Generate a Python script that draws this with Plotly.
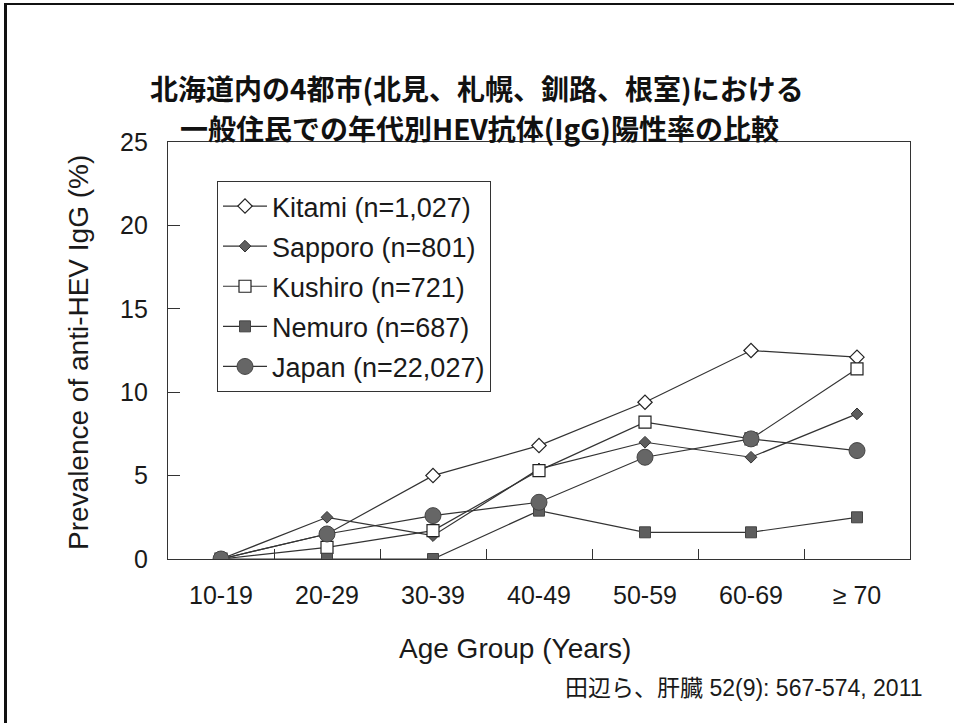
import plotly.graph_objects as go

age_groups = ["10-19", "20-29", "30-39", "40-49", "50-59", "60-69", "≥ 70"]
kitami = [0, 1.5, 5.0, 6.8, 9.4, 12.5, 12.1]
sapporo = [0, 2.5, 1.4, 5.4, 7.0, 6.1, 8.7]
kushiro = [0, 0.7, 1.7, 5.3, 8.2, 7.2, 11.4]
nemuro = [0, 0.0, 0.0, 2.9, 1.6, 1.6, 2.5]
japan = [0, 1.5, 2.6, 3.4, 6.1, 7.2, 6.5]

series_names = ["Kitami (n=1,027)", "Sapporo (n=801)", "Kushiro (n=721)",
                "Nemuro (n=687)", "Japan (n=22,027)"]
y_ticks = [0, 5, 10, 15, 20, 25]

W, H = 954, 723
L, R, T, B = 168, 910, 142, 559  # plot area pixels


def px(xp):
    return (xp - L) / (R - L)


def py(yp):
    return (B - yp) / (B - T)


FONT = "Liberation Sans, Arial, sans-serif"
CJK = "Noto Sans CJK JP, sans-serif"
LINE = "#333333"
FILL = "#5e5e5e"

styles = [
    dict(symbol="diamond", size=11, color="white", line=dict(color="#222", width=1.2)),
    dict(symbol="diamond", size=9, color=FILL, line=dict(color="#333", width=1)),
    dict(symbol="square", size=12, color="white", line=dict(color="#222", width=1.2)),
    dict(symbol="square", size=11, color=FILL, line=dict(color="#444", width=1)),
    dict(symbol="circle", size=16, color="#666666", line=dict(color="#444", width=1)),
]

fig = go.Figure()
for name, vals, st in zip(series_names, [kitami, sapporo, kushiro, nemuro, japan], styles):
    fig.add_trace(go.Scatter(
        x=age_groups, y=vals, name=name, mode="lines+markers",
        line=dict(color=LINE, width=1.2),
        marker=st, legendgroup=name,
    ))

fig.update_layout(
    width=W, height=H,
    margin=dict(l=L, r=W - R, t=T, b=H - B),
    paper_bgcolor="white", plot_bgcolor="white",
    showlegend=True,
    legend=dict(
        x=px(217), y=py(181), xanchor="left", yanchor="top",
        bordercolor="#333", borderwidth=1, bgcolor="white",
        font=dict(family=FONT, size=27, color="#1a1a1a"),
        tracegroupgap=2, itemwidth=44,
    ),
    font=dict(family=FONT, color="#1a1a1a"),
)

fig.update_xaxes(
    type="category", range=[-0.5, 6.5],
    showline=True, linecolor=LINE, linewidth=1.2, mirror=True,
    ticks="inside", tickson="boundaries", ticklen=10, tickcolor=LINE,
    showgrid=False, zeroline=False,
    tickfont=dict(family=FONT, size=25, color="#1a1a1a"),
    ticklabelstandoff=14,
)
fig.update_yaxes(
    range=[0, 25], tickvals=y_ticks,
    showline=True, linecolor=LINE, linewidth=1.2, mirror=True,
    ticks="inside", ticklen=12, tickcolor=LINE,
    showgrid=False, zeroline=False,
    tickfont=dict(family=FONT, size=25, color="#1a1a1a"),
    ticklabelstandoff=14,
)

ann = []
ann.append(dict(text="<b>北海道内の4都市(北見、札幌、釧路、根室)における</b>",
                x=px(477), y=py(88), xref="paper", yref="paper",
                xanchor="center", yanchor="middle", showarrow=False,
                font=dict(family=CJK, size=28, color="#111")))
ann.append(dict(text="<b>一般住民での年代別HEV抗体(IgG)陽性率の比較</b>",
                x=px(479), y=py(128), xref="paper", yref="paper",
                xanchor="center", yanchor="middle", showarrow=False,
                font=dict(family=CJK, size=28, color="#111")))
ann.append(dict(text="Age Group (Years)",
                x=px(515), y=py(648), xref="paper", yref="paper",
                xanchor="center", yanchor="middle", showarrow=False,
                font=dict(family=FONT, size=28, color="#1a1a1a")))
ann.append(dict(text="Prevalence of anti-HEV IgG (%)",
                x=px(78), y=py(353), xref="paper", yref="paper",
                xanchor="center", yanchor="middle", showarrow=False, textangle=-90,
                font=dict(family=FONT, size=28, color="#1a1a1a")))
ann.append(dict(text="田辺ら、肝臓 52(9): 567-574, 2011",
                x=px(925), y=py(688), xref="paper", yref="paper",
                xanchor="right", yanchor="middle", showarrow=False,
                font=dict(family=FONT + ", " + CJK, size=23, color="#1a1a1a")))
fig.update_layout(annotations=ann)

fig.add_shape(type="line", xref="paper", yref="paper",
              x0=px(5.5), x1=px(5.5), y0=py(3), y1=py(730),
              line=dict(color="#111", width=3))
fig.add_shape(type="line", xref="paper", yref="paper",
              x0=px(4), x1=px(960), y0=py(4), y1=py(4),
              line=dict(color="#111", width=2))

fig.write_html("out.html", config={"displayModeBar": False},
               post_script="document.body.style.margin='0';document.body.style.overflow='hidden';")
